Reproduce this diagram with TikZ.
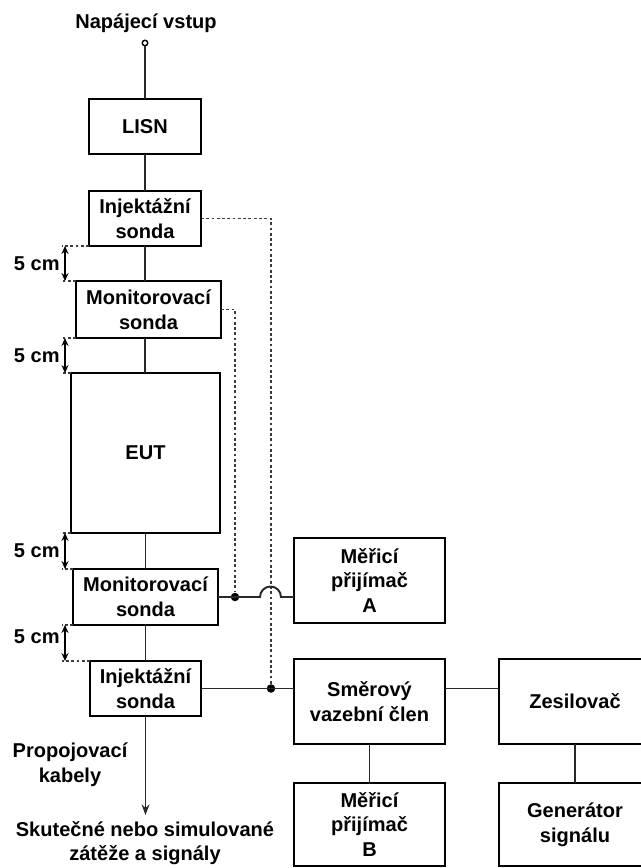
\documentclass[tikz,border=0pt]{standalone}
\usepackage{fontspec}
\setmainfont{Liberation Sans}
\usetikzlibrary{arrows.meta}
\definecolor{wiredark}{RGB}{40, 40, 40}
\definecolor{probegray}{RGB}{60, 60, 60}
\newcommand{\labelfont}{\fontsize{11.4}{14}\selectfont\bfseries}
\tikzstyle{block}=[draw=black, line width=1.3pt, align=center, inner sep=0pt, outer sep=0pt, font=\labelfont]
\tikzstyle{wire}=[line width=1.1pt, color=wiredark]
\tikzstyle{probeline}=[line width=1.1pt, color=probegray, dash pattern=on 1.6pt off 1.4pt]
\tikzstyle{extline}=[line width=1pt, color=probegray, dash pattern=on 1.6pt off 1.4pt]
\tikzstyle{dimline}=[line width=1.1pt, {Stealth[length=4.5pt,width=4pt]}-{Stealth[length=4.5pt,width=4pt]}]
\tikzstyle{junction}=[circle, fill=black, inner sep=0pt, minimum size=0.17cm]
\tikzstyle{caption}=[align=center, font=\labelfont]

\begin{document}
\begin{tikzpicture}[x=0.02cm, y=-0.02cm]
    \useasboundingbox (0,0) rectangle (641,868);
    \clip (0,0) rectangle (641,868);

    % Supply and cable chain
    \node[caption] (supply) at (146,23) {Napájecí vstup};
    \node[circle, draw, line width=0.8pt, inner sep=0pt, minimum size=0.11cm] (inlet) at (145,43) {};
    \node[block, minimum width=2.24cm, minimum height=1.1cm] (lisn) at (145,126.5) {LISN};
    \node[block, minimum width=2.24cm, minimum height=1.1cm] (injtop) at (145,218.5) {Injektážní\\sonda};
    \node[block, minimum width=2.9cm, minimum height=1.14cm] (montop) at (148.5,309.5) {Monitorovací\\sonda};
    \node[block, minimum width=2.98cm, minimum height=3.2cm] (eut) at (145.5,453) {EUT};
    \node[block, minimum width=2.9cm, minimum height=1.12cm] (monbot) at (145.5,597) {Monitorovací\\sonda};
    \node[block, minimum width=2.22cm, minimum height=1.1cm] (injbot) at (145.5,688.5) {Injektážní\\sonda};
    \coordinate (loadtip) at (145.5,815);
    \node[caption] (cables) at (70,765) {Propojovací\\kabely};
    \node[caption] (loads) at (145,843) {Skutečné nebo simulované\\zátěže a signály};

    % Measuring and driving equipment
    \node[block, minimum width=3.02cm, minimum height=1.7cm] (rxa) at (369.5,580.5) {Měřicí\\přijímač\\A};
    \node[block, minimum width=3.02cm, minimum height=1.7cm] (coup) at (369.5,701.5) {Směrový\\vazební člen};
    \node[block, minimum width=3.04cm, minimum height=1.7cm] (amp) at (575,701.5) {Zesilovač};
    \node[block, minimum width=3.02cm, minimum height=1.66cm] (rxb) at (369.5,824.5) {Měřicí\\přijímač\\B};
    \node[block, minimum width=3.04cm, minimum height=1.66cm] (gen) at (575,824.5) {Generátor\\signálu};

    % Main cable
    \draw[wire] (inlet) -- (lisn);
    \draw[wire] (lisn) -- (injtop);
    \draw[wire] (injtop.south) -- (injtop.south |- montop.north);
    \draw[wire] (montop.south -| injtop.south) -- (eut.north -| injtop.south);
    \draw[wire] (eut) -- (monbot);
    \draw[wire] (monbot) -- (injbot);
    \draw[wire, -{Stealth[length=6pt,width=4.5pt]}] (injbot) -- (loadtip);

    % 5 cm spacing
    \coordinate (dimx) at (65,0);
    \foreach \upper/\lower/\ylab in {injtop/montop/264, montop/eut/356, eut/monbot/551, monbot/injbot/637} {
        \draw[extline] (\upper.south west) -- ([xshift=-0.06cm]\upper.south west -| dimx);
        \draw[extline] (\lower.north west) -- ([xshift=-0.06cm]\lower.north west -| dimx);
        \draw[dimline] (\upper.south west -| dimx) -- (\lower.north west -| dimx);
        \node[caption, anchor=east, inner sep=0pt] (gap-\lower) at (60,\ylab) {5 cm};
    }

    % Probe connections
    \path (monbot.east) -- ++(17,0) node[junction] (jointA) {};
    \path (injbot.east) -- ++(70,0) node[junction] (jointB) {};
    \draw[probeline] (injtop.east) -| (jointB);
    \draw[probeline] (montop.east) -| (jointA);
    \draw[wire] (monbot.east) -- (jointA.center) -- ++(25,0)
        arc[start angle=180, end angle=0, radius=0.21cm] -- (rxa.west |- jointA);
    \draw[wire] (injbot.east) -- (jointB.center) -- (coup.west |- jointB);
    \draw[wire] (coup.east |- jointB) -- (amp.west |- jointB);
    \draw[wire] (coup) -- (rxb);
    \draw[wire] (amp) -- (gen);

\end{tikzpicture}
\end{document}
